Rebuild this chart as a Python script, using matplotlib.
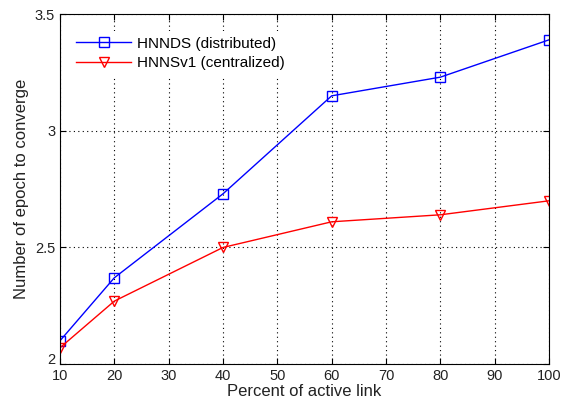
import numpy as np
import matplotlib
matplotlib.use("Agg")
from matplotlib import pyplot as plt
from matplotlib.transforms import ScaledTranslation

plt.rcParams['font.family'] = ['Liberation Sans', 'DejaVu Sans']

percent = [10, 20, 40, 60, 80, 100]
hnnds = [2.10, 2.37, 2.73, 3.15, 3.23, 3.39]
hnnsv1 = [2.07, 2.27, 2.50, 2.61, 2.64, 2.70]

fig = plt.figure(figsize=(5.74, 4.05), dpi=100)
ax = fig.add_axes([0.1045, 0.101, 0.852, 0.864])

ax.plot(percent, hnnds, color='blue', lw=1, marker='s', ms=7.5, mfc='none',
        mec='blue', mew=1, label='HNNDS (distributed)')
ax.plot(percent, hnnsv1, color='red', lw=1, marker='v', ms=7.5, mfc='none',
        mec='red', mew=1, label='HNNSv1 (centralized)')

ax.set_xlim(10, 100)
ax.set_ylim(2, 3.5)
ax.set_xticks(np.arange(10, 101, 10))
ax.set_yticks([2, 2.5, 3, 3.5])
ax.set_yticklabels(['2', '2.5', '3', '3.5'])
ax.grid(True, color='black', linestyle=(0, (1, 3)), lw=0.8)
ax.tick_params(direction='in', top=True, right=True, labelsize=10.5, length=4,
               labelcolor='#222222')
ax.set_xlabel('Percent of active link', fontsize=12, labelpad=1, color='#222222')
ax.set_ylabel('Number of epoch to converge', fontsize=12, labelpad=4,
              color='#222222')

# lift the bottom "2" a little so it sits above the "10"
lab = ax.get_yticklabels()[0]
lab.set_transform(lab.get_transform() + ScaledTranslation(0, 4/72, fig.dpi_scale_trans))

leg = ax.legend(loc='upper left', bbox_to_anchor=(0.005, 0.975), fontsize=11,
                frameon=True, fancybox=False, framealpha=1, edgecolor='none',
                handlelength=3.6, handletextpad=0.4, borderpad=0.4,
                labelspacing=0.35)

plt.savefig("out.png")
